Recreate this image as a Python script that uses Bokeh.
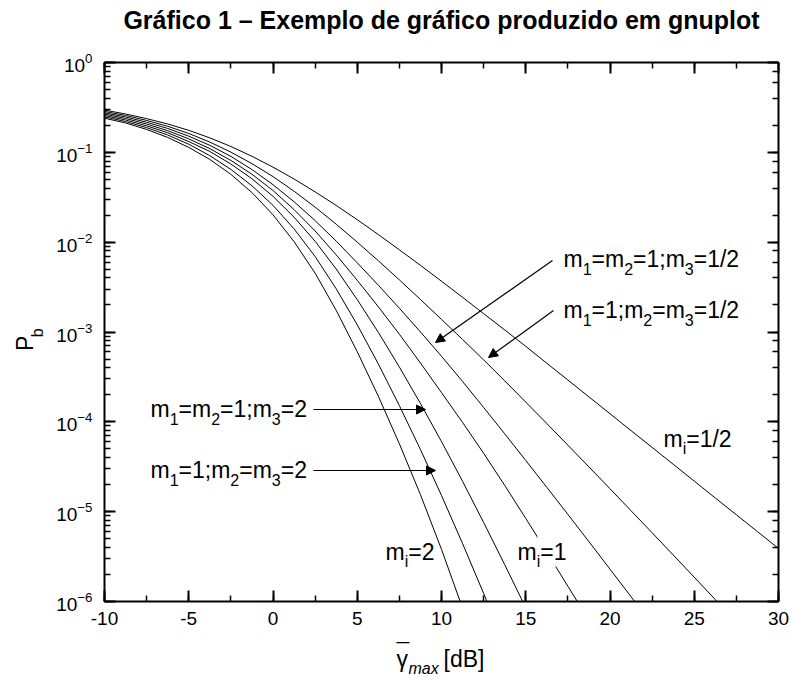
import math
from bokeh.plotting import figure
from bokeh.layouts import column, row
from bokeh.models import (Range1d, LogAxis, LinearAxis, SingleIntervalTicker, LogTicker,
                          Label, Arrow, NormalHead, BoxAnnotation, CustomJSTickFormatter)
from bokeh.embed import file_html
from bokeh.resources import INLINE

# ---------------- data ----------------
gamma_db = [-10, -8.75, -7.5, -6.25, -5, -3.75, -2.5, -1.25, 0, 1.25, 2.5, 3.75, 5, 6.25,
            7.5, 8.75, 10, 11.25, 12.5, 13.75, 15, 16.25, 17.5, 18.75, 20, 21.25, 22.5,
            23.75, 25, 26.25, 27.5, 28.75, 30]

# log10(P_b) of each curve, sampled at gamma_db (each curve leaves the frame at 1e-6)
log_pb_mi_2 = [-0.62, -0.673, -0.745, -0.834, -0.945, -1.079, -1.245, -1.448, -1.695,
               -1.994, -2.345, -2.759, -3.22, -3.714, -4.245, -4.81, -5.42, -6.073, -6.77]
log_pb_m1_1_m23_2 = [-0.605, -0.657, -0.725, -0.807, -0.91, -1.037, -1.19, -1.372, -1.59,
                     -1.852, -2.16, -2.519, -2.92, -3.355, -3.82, -4.308, -4.82, -5.355,
                     -5.91, -6.481, -7.07]
log_pb_m12_1_m3_2 = [-0.59, -0.64, -0.705, -0.782, -0.88, -0.99, -1.13, -1.294, -1.49,
                     -1.722, -1.99, -2.299, -2.64, -3.004, -3.39, -3.796, -4.22, -4.662,
                     -5.12, -5.59, -6.07, -6.552, -7.04]
log_pb_mi_1 = [-0.575, -0.623, -0.685, -0.759, -0.85, -0.959, -1.09, -1.244, -1.425,
               -1.637, -1.875, -2.141, -2.425, -2.719, -3.025, -3.345, -3.675, -4.007,
               -4.35, -4.707, -5.075, -5.45, -5.83, -6.209, -6.59]
log_pb_m12_1_m3_half = [-0.56, -0.606, -0.665, -0.734, -0.82, -0.922, -1.045, -1.192, -1.36,
                        -1.55, -1.76, -1.988, -2.23, -2.479, -2.735, -2.999, -3.27, -3.551,
                        -3.84, -4.133, -4.43, -4.729, -5.03, -5.334, -5.64, -5.947, -6.255,
                        -6.562, -6.87]
log_pb_m1_1_m23_half = [-0.545, -0.589, -0.645, -0.71, -0.79, -0.886, -0.9975, -1.126, -1.27,
                        -1.433, -1.61, -1.80, -2.0, -2.207, -2.42, -2.638, -2.86, -3.083,
                        -3.31, -3.544, -3.78, -4.019, -4.26, -4.502, -4.745, -4.99, -5.235,
                        -5.482, -5.73, -5.979, -6.228, -6.477, -6.727]
log_pb_mi_half = [-0.53, -0.573, -0.625, -0.684, -0.755, -0.839, -0.935, -1.044, -1.165,
                  -1.297, -1.44, -1.591, -1.75, -1.915, -2.085, -2.258, -2.435, -2.614,
                  -2.795, -2.977, -3.16, -3.348, -3.535, -3.722, -3.91, -4.098, -4.285,
                  -4.472, -4.66, -4.848, -5.035, -5.222, -5.41]

curves = [log_pb_mi_2, log_pb_m1_1_m23_2, log_pb_m12_1_m3_2, log_pb_mi_1,
          log_pb_m12_1_m3_half, log_pb_m1_1_m23_half, log_pb_mi_half]

title_text = "Gráfico 1 – Exemplo de gráfico produzido em gnuplot"

# ---------------- layout constants (page pixels) ----------------
FONT = "Liberation Sans"
X0, X1, Y0, Y1 = -10, 30, 1e-6, 1.0
TOTAL_W = 794
TITLE_H = 42
YLAB_W = 50
XLAB_H = 48
MAIN_W = TOTAL_W - YLAB_W
MAIN_H = 684 - TITLE_H - XLAB_H
FL, FR, FT, FB = 104, 778, 62, 601   # plot frame edges on the page
BK = 0.36                            # baseline correction (fraction of font size)

def blank_fig(w, h):
    f = figure(width=w, height=h, x_range=Range1d(0, w), y_range=Range1d(0, h),
               output_backend="svg", toolbar_location=None, min_border=0, title=None,
               x_axis_type=None, y_axis_type=None)
    f.outline_line_color = None
    f.grid.visible = False
    f.background_fill_color = "white"
    f.border_fill_color = "white"
    return f

# ---------------- main figure ----------------
p = figure(width=MAIN_W, height=MAIN_H, x_range=Range1d(X0, X1), y_range=Range1d(Y0, Y1),
           y_axis_type="log", output_backend="svg", toolbar_location=None, title=None,
           min_border_left=FL - YLAB_W, min_border_right=TOTAL_W - FR,
           min_border_top=FT - TITLE_H, min_border_bottom=TITLE_H + MAIN_H - FB)
p.outline_line_color = None
p.grid.visible = False
p.background_fill_color = "white"
p.border_fill_color = "white"

p.xaxis.ticker = SingleIntervalTicker(interval=5, num_minor_ticks=2)
p.xaxis.formatter = CustomJSTickFormatter(code="return tick.toString()")

def style_axis(ax, labels=True):
    ax.axis_line_width = 2
    ax.axis_line_color = "black"
    ax.major_tick_line_width = 2
    ax.minor_tick_line_width = 1.5
    ax.major_tick_line_color = "black"
    ax.minor_tick_line_color = "black"
    ax.major_tick_in = 11
    ax.major_tick_out = 0
    ax.minor_tick_in = 6
    ax.minor_tick_out = 0
    ax.major_label_text_font = FONT
    ax.major_label_text_font_size = "19px"
    ax.major_label_text_color = "black"
    if not labels:
        ax.formatter = CustomJSTickFormatter(code="return ''")
        ax.major_label_text_font_size = "0px"
        ax.major_label_standoff = 0

style_axis(p.xaxis[0])
p.xaxis[0].major_label_standoff = 10
style_axis(p.yaxis[0])
p.yaxis[0].major_label_standoff = 12

top_ax = LinearAxis(ticker=SingleIntervalTicker(interval=5, num_minor_ticks=2))
style_axis(top_ax, labels=False)
p.add_layout(top_ax, "above")
right_ax = LogAxis(ticker=LogTicker())
style_axis(right_ax, labels=False)
p.add_layout(right_ax, "right")

for lp in curves:
    xs = gamma_db[:len(lp)]
    ys = [10 ** v for v in lp]
    p.line(xs, ys, line_color="black", line_width=1)

# page-pixel -> data mapping for annotations inside the frame
def X(px):
    return X0 + (px - FL) * (X1 - X0) / (FR - FL)

def Y(py):
    return 10 ** (-(py - FT) * 6.0 / (FB - FT))

W = {'m': 0.833, '=': 0.584, '1': 0.556, '2': 0.556, '3': 0.556, ';': 0.278, '/': 0.278,
     'i': 0.222, '[': 0.278, ']': 0.278, 'd': 0.556, 'B': 0.667, 'a': 0.556, 'x': 0.5,
     'P': 0.667, 'b': 0.556, ' ': 0.278}

def tw(s, size):
    return sum(W.get(c, 0.556) for c in s) * size

MAIN, SUB, DROP = 23, 16, 7

def lab(fig, x, y, text, size, **kw):
    fig.add_layout(Label(x=x, y=y, text=text, text_font=FONT, text_font_size=f"{size}px",
                         text_baseline="alphabetic", text_align=kw.pop("align", "left"),
                         text_color="black", **kw))

def rich(px, py, pieces):
    """pieces of text on one baseline (page px, py); subscripts are smaller and lowered"""
    x = px
    for txt, sub in pieces:
        size = SUB if sub else MAIN
        base = py + DROP if sub else py
        lab(p, X(x), Y(base - BK * size), txt, size)
        x += tw(txt, size)

# gap in the m_i=1 curve behind its label
p.add_layout(BoxAnnotation(left=X(537), right=X(565), bottom=Y(566), top=Y(531),
                           fill_color="white", fill_alpha=1.0, line_color=None))

rich(563, 267, [("m", 0), ("1", 1), ("=m", 0), ("2", 1), ("=1;m", 0), ("3", 1), ("=1/2", 0)])
rich(563, 318, [("m", 0), ("1", 1), ("=1;m", 0), ("2", 1), ("=m", 0), ("3", 1), ("=1/2", 0)])
rich(150, 417, [("m", 0), ("1", 1), ("=m", 0), ("2", 1), ("=1;m", 0), ("3", 1), ("=2", 0)])
rich(150, 478, [("m", 0), ("1", 1), ("=1;m", 0), ("2", 1), ("=m", 0), ("3", 1), ("=2", 0)])
rich(663, 447, [("m", 0), ("i", 1), ("=1/2", 0)])
rich(517, 560, [("m", 0), ("i", 1), ("=1", 0)])
rich(385, 560, [("m", 0), ("i", 1), ("=2", 0)])

def arrow(x0, y0, x1, y1):
    p.add_layout(Arrow(x_start=X(x0), y_start=Y(y0), x_end=X(x1), y_end=Y(y1),
                       line_color="black", line_width=1.2,
                       end=NormalHead(size=9, fill_color="black", line_color="black",
                                      line_width=1)))

arrow(552, 260, 435, 342)
arrow(553, 310, 488, 357)
arrow(313, 409, 425, 409)
arrow(313, 470, 435, 470)

# ---------------- title strip (page y 0..TITLE_H) ----------------
tf = blank_fig(TOTAL_W, TITLE_H)
lab(tf, 441, TITLE_H - 28 + BK * 25, title_text, 25, align="center", text_font_style="bold")

# ---------------- y label strip (P_b) ----------------
yf = blank_fig(YLAB_W, MAIN_H)
def ytop(py):
    return MAIN_H - (py - TITLE_H)
lab(yf, 33 - BK * 23, ytop(360), "P", 23, angle=math.pi / 2)
lab(yf, 43 - BK * 16, ytop(360 - tw("P", 23)), "b", 16, angle=math.pi / 2)

# ---------------- x label strip (gamma-bar_max [dB]) ----------------
xf = blank_fig(TOTAL_W, XLAB_H)
def xtop(py, size):
    return XLAB_H - (py - (TITLE_H + MAIN_H)) + BK * size
lab(xf, 396, xtop(667, 23), "γ", 23)
lab(xf, 396, xtop(660, 23), "¯", 23)
lab(xf, 408, xtop(674, 16), "max", 16, text_font_style="italic")
lab(xf, 443, xtop(667, 23), "[dB]", 23)

layout = column(tf, row(yf, p), xf)
open("out.html", "w").write(file_html(layout, INLINE))
